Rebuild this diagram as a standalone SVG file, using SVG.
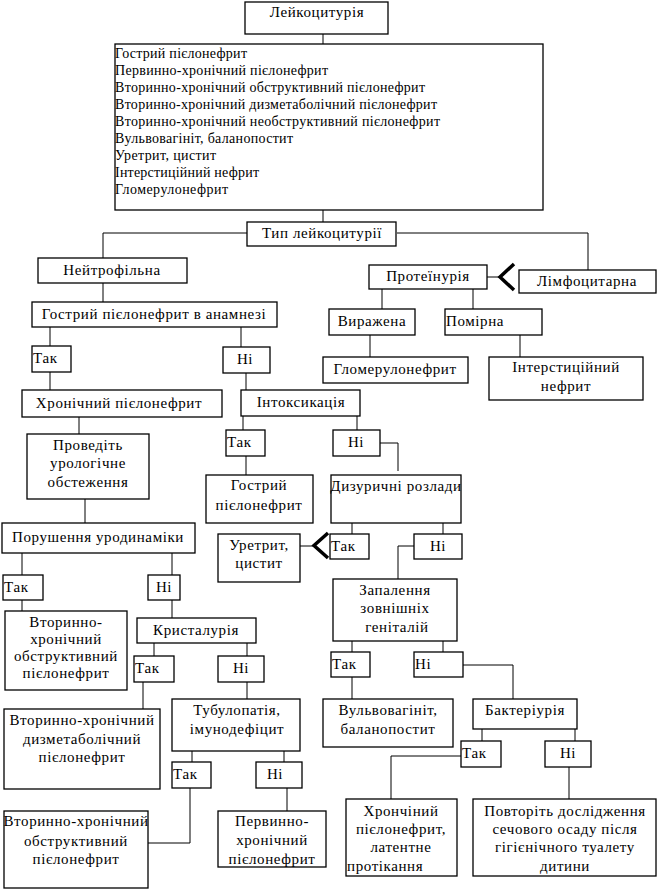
<svg xmlns="http://www.w3.org/2000/svg" width="659" height="890" viewBox="0 0 659 890" font-family="'Liberation Serif', 'DejaVu Serif', serif">
<style>
rect{fill:#fff;stroke:#000;stroke-width:1.3}
text{font-family:'Liberation Serif','DejaVu Serif',serif;font-size:15px;fill:#000;letter-spacing:0.6px}
.m{text-anchor:middle}
.l{font-size:14px;letter-spacing:0}
.c path{fill:none;stroke:#000;stroke-width:1}
.chev{fill:none;stroke:#000;stroke-width:3.5}
</style>
<rect x="0" y="0" width="659" height="890" style="fill:#fff;stroke:none"/>
<g class="c" id="connectors">
<path d="M323,34V44M323,210V222M247,233H103V258M397,233H588V270M103,276V302"/>
<path d="M50,327V346M50,372V390M241,327V347M246,373V390M79,417V434"/>
<path d="M243,416V430M357,416V430M246,456V475M380,443H398V471M85,499V523"/>
<path d="M352,523V534M443,523V534M414,546H398V579M300,546H313"/>
<path d="M22,553V575M22,600V611M172,553V575M172,600V618"/>
<path d="M154,643V656M247,643V656M143,682V709M247,682V699M192,751V762M284,751V762M190,788V843H148M287,788V811"/>
<path d="M352,641V652M443,641V652M352,677V699M463,665H513V699M482,729V741M575,729V741M461,756H391V799M569,767V799"/>
<path d="M382,289V309M473,289V309M370,335V357M520,335V357M487,277H499"/>
<polyline class="chev" points="328,533 314,545.5 328,558"/>
<polyline class="chev" points="514,264 500,277 514,290"/>
</g>
<g id="n_leuk"><rect x="245" y="2" width="143" height="32"/><text class="m" x="317" y="17">Лейкоцитурія</text></g>
<g id="n_list"><rect x="115" y="44" width="428" height="166"/>
<text class="l" x="115" y="58" textLength="132" lengthAdjust="spacing">Гострий пієлонефрит</text>
<text class="l" x="115" y="75" textLength="213" lengthAdjust="spacing">Первинно-хронічний пієлонефрит</text>
<text class="l" x="115" y="92" textLength="310" lengthAdjust="spacing">Вторинно-хронічний обструктивний пієлонефрит</text>
<text class="l" x="115" y="109" textLength="322" lengthAdjust="spacing">Вторинно-хронічний дизметаболічний пієлонефрит</text>
<text class="l" x="115" y="126" textLength="325" lengthAdjust="spacing">Вторинно-хронічний необструктивний пієлонефрит</text>
<text class="l" x="115" y="143" textLength="178" lengthAdjust="spacing">Вульвовагініт, баланопостит</text>
<text class="l" x="115" y="160" textLength="101" lengthAdjust="spacing">Уретрит, цистит</text>
<text class="l" x="115" y="177" textLength="144" lengthAdjust="spacing">Інтерстиційний нефрит</text>
<text class="l" x="115" y="194" textLength="113" lengthAdjust="spacing">Гломерулонефрит</text>
</g>
<g id="n_type"><rect x="247" y="222" width="149" height="24"/><text class="m" x="322" y="238">Тип лейкоцитурії</text></g>
<g id="n_neut"><rect x="38" y="258" width="149" height="25"/><text class="m" x="112" y="275">Нейтрофільна</text></g>
<g id="n_lymph"><rect x="519" y="270" width="137" height="23"/><text class="m" x="587" y="286">Лімфоцитарна</text></g>
<g id="n_prot"><rect x="369" y="265" width="118" height="24"/><text class="m" x="428" y="281">Протеїнурія</text></g>
<g id="n_vyr"><rect x="329" y="309" width="86" height="26"/><text class="m" x="372" y="326">Виражена</text></g>
<g id="n_pom"><rect x="445" y="309" width="97" height="26"/><text x="446" y="326">Помірна</text></g>
<g id="n_glom"><rect x="323" y="357" width="145" height="26"/><text class="m" x="395" y="374">Гломерулонефрит</text></g>
<g id="n_inter"><rect x="489" y="357" width="154" height="43"/><text class="m" x="566" y="372">Інтерстиційний</text><text class="m" x="566" y="391">нефрит</text></g>
<g id="n_hist"><rect x="32" y="302" width="245" height="25"/><text class="m" x="154" y="319">Гострий пієлонефрит в анамнезі</text></g>
<g id="n_yes1"><rect x="32" y="346" width="39" height="26"/><text x="33" y="363">Так</text></g>
<g id="n_no1"><rect x="223" y="347" width="47" height="26"/><text class="m" x="245" y="364">Ні</text></g>
<g id="n_chron"><rect x="22" y="390" width="200" height="27"/><text class="m" x="119" y="408">Хронічний пієлонефрит</text></g>
<g id="n_intox"><rect x="241" y="390" width="119" height="26"/><text class="m" x="301" y="407">Інтоксикація</text></g>
<g id="n_yes2"><rect x="226" y="430" width="39" height="26"/><text x="227" y="447">Так</text></g>
<g id="n_no2"><rect x="333" y="430" width="47" height="26"/><text class="m" x="356" y="447">Ні</text></g>
<g id="n_uro"><rect x="27" y="434" width="122" height="65"/><text class="m" x="88" y="450">Проведіть</text><text class="m" x="88" y="468">урологічне</text><text class="m" x="88" y="487">обстеження</text></g>
<g id="n_acute"><rect x="206" y="475" width="107" height="48"/><text class="m" x="259" y="490">Гострий</text><text class="m" x="259" y="510">пієлонефрит</text></g>
<g id="n_dys"><rect x="331" y="475" width="130" height="48"/><text class="m" x="396" y="491">Дизуричні розлади</text></g>
<g id="n_yes3"><rect x="330" y="534" width="39" height="25"/><text x="331" y="551">Так</text></g>
<g id="n_no3"><rect x="414" y="534" width="48" height="25"/><text class="m" x="438" y="551">Ні</text></g>
<g id="n_ure"><rect x="218" y="534" width="82" height="48"/><text class="m" x="259" y="550">Уретрит,</text><text class="m" x="259" y="568">цистит</text></g>
<g id="n_urod"><rect x="2" y="523" width="193" height="30"/><text class="m" x="98" y="542">Порушення уродинаміки</text></g>
<g id="n_yes4"><rect x="3" y="575" width="40" height="25"/><text x="4" y="592">Так</text></g>
<g id="n_no4"><rect x="148" y="575" width="32" height="25"/><text class="m" x="164" y="592">Ні</text></g>
<g id="n_obs1"><rect x="5" y="611" width="122" height="79"/><text class="m" x="66" y="627">Вторинно-</text><text class="m" x="66" y="644">хронічний</text><text class="m" x="66" y="661">обструктивний</text><text class="m" x="66" y="678">пієлонефрит</text></g>
<g id="n_cryst"><rect x="137" y="618" width="119" height="25"/><text class="m" x="196" y="635">Кристалурія</text></g>
<g id="n_yes5"><rect x="134" y="656" width="40" height="26"/><text x="135" y="673">Так</text></g>
<g id="n_no5"><rect x="218" y="656" width="46" height="26"/><text class="m" x="241" y="673">Ні</text></g>
<g id="n_dysmet"><rect x="4" y="709" width="156" height="80"/><text class="m" x="82" y="725">Вторинно-хронічний</text><text class="m" x="82" y="744">дизметаболічний</text><text class="m" x="82" y="762">пієлонефрит</text></g>
<g id="n_tub"><rect x="172" y="699" width="128" height="52"/><text class="m" x="237" y="715">Тубулопатія,</text><text class="m" x="237" y="734">імунодефіцит</text></g>
<g id="n_yes6"><rect x="172" y="762" width="39" height="26"/><text x="173" y="779">Так</text></g>
<g id="n_no6"><rect x="256" y="762" width="46" height="26"/><text class="m" x="275" y="779">Ні</text></g>
<g id="n_obs2"><rect x="4" y="811" width="144" height="77"/><text class="m" x="76" y="826">Вторинно-хронічний</text><text class="m" x="76" y="846">обструктивний</text><text class="m" x="76" y="864">пієлонефрит</text></g>
<g id="n_prim"><rect x="218" y="811" width="108" height="56"/><text class="m" x="272" y="826">Первинно-</text><text class="m" x="272" y="845">хронічний</text><text class="m" x="272" y="864">пієлонефрит</text></g>
<g id="n_infl"><rect x="333" y="579" width="124" height="62"/><text class="m" x="395" y="595">Запалення</text><text class="m" x="395" y="613">зовнішніх</text><text class="m" x="397" y="632">геніталій</text></g>
<g id="n_yes7"><rect x="331" y="652" width="39" height="25"/><text x="332" y="669">Так</text></g>
<g id="n_no7"><rect x="414" y="652" width="49" height="25"/><text x="415" y="669">Ні</text></g>
<g id="n_vulv"><rect x="323" y="699" width="130" height="48"/><text class="m" x="388" y="715">Вульвовагініт,</text><text class="m" x="388" y="734">баланопостит</text></g>
<g id="n_bact"><rect x="473" y="699" width="104" height="30"/><text class="m" x="525" y="715">Бактеріурія</text></g>
<g id="n_yes8"><rect x="461" y="741" width="40" height="26"/><text x="462" y="758">Так</text></g>
<g id="n_no8"><rect x="545" y="741" width="46" height="26"/><text class="m" x="568" y="758">Ні</text></g>
<g id="n_chr2"><rect x="346" y="799" width="111" height="77"/><text class="m" x="401" y="816">Хрончіний</text><text class="m" x="401" y="834">пієлонефрит,</text><text class="m" x="401" y="852">латентне</text><text x="347" y="871">протікання</text></g>
<g id="n_rep"><rect x="473" y="799" width="183" height="77"/><text class="m" x="565" y="816">Повторіть дослідження</text><text class="m" x="565" y="834">сечового осаду після</text><text class="m" x="565" y="852">гігієнічного туалету</text><text class="m" x="565" y="871">дитини</text></g>
</svg>
